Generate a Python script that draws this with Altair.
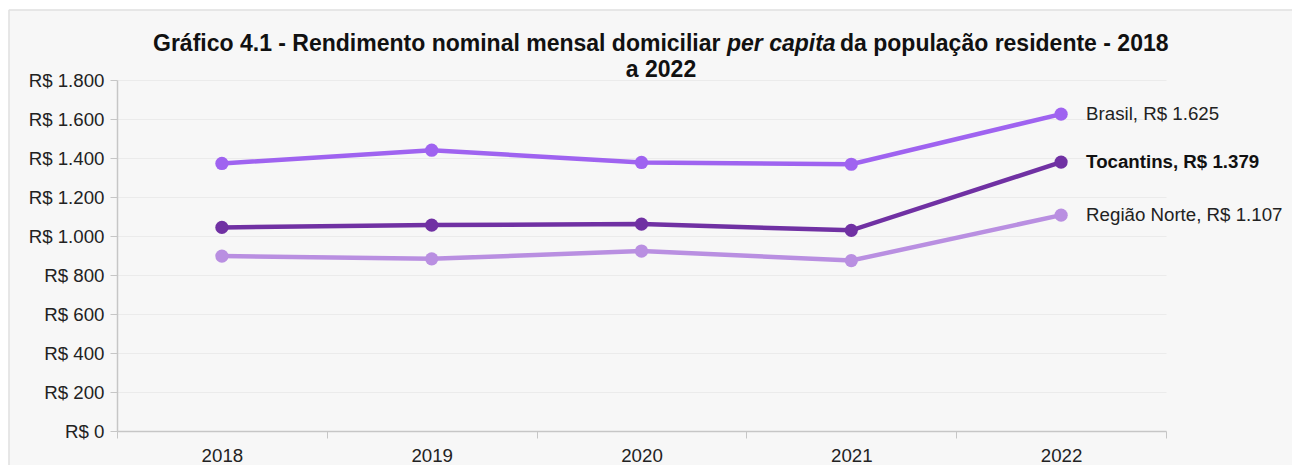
import altair as alt
import pandas as pd

years = ["2018", "2019", "2020", "2021", "2022"]
series = ["Brasil", "Tocantins", "Região Norte"]
brasil = [1372, 1440, 1377, 1368, 1625]
tocantins = [1044, 1056, 1061, 1029, 1379]
norte = [897, 883, 923, 874, 1107]
colors = ["#9F63F0", "#7031A3", "#B98FE1"]
y_ticks = [0, 200, 400, 600, 800, 1000, 1200, 1400, 1600, 1800]

title_a = "Gráfico 4.1 - Rendimento nominal mensal domiciliar"
title_b = "per capita"
title_c = "da população residente - 2018"
title_d = "a 2022"

rows = []
for name, vals in zip(series, [brasil, tocantins, norte]):
    for yr, v in zip(years, vals):
        rows.append({"ano": yr, "serie": name, "valor": v})
df = pd.DataFrame(rows)

last = df[df["ano"] == years[-1]].copy()
last["rotulo"] = [f"{s}, R$ {format(v, ',').replace(',', '.')}" for s, v in zip(last["serie"], last["valor"])]

FONT = "Liberation Sans"
color_scale = alt.Scale(domain=series, range=colors)

x_enc = alt.X(
    "ano:O",
    title=None,
    bandPosition=0.5,
    scale=alt.Scale(type="band", paddingInner=0, paddingOuter=0),
    axis=alt.Axis(
        tickBand="extent",
        labelAngle=0,
        grid=False,
        tickSize=7,
        labelPadding=8,
        labelFontSize=18.7,
        labelColor="#222222",
        labelFont=FONT,
        labelOverlap=False,
        domainColor="#c6c6c6",
        tickColor="#c6c6c6",
        domainWidth=1.5,
    ),
)
y_enc = alt.Y(
    "valor:Q",
    title=None,
    scale=alt.Scale(domain=[0, 1800], nice=False),
    axis=alt.Axis(
        values=y_ticks,
        tickCount=10,
        labelExpr="'R$ ' + replace(format(datum.value, ','), ',', '.')",
        grid=True,
        gridColor="#ebebeb",
        tickSize=7,
        labelPadding=6,
        labelFontSize=18.7,
        labelColor="#222222",
        labelFont=FONT,
        labelOverlap=False,
        labelFlush=False,
        domainColor="#c6c6c6",
        tickColor="#c6c6c6",
        domainWidth=1.5,
    ),
)

bdf = pd.DataFrame({"p": [0]})
border_top = alt.Chart(bdf).mark_rule(color="#e0e0e0", strokeWidth=1.5).encode(
    x=alt.value(-108), x2=alt.value(1180), y=alt.value(-70)
)
border_left = alt.Chart(bdf).mark_rule(color="#e0e0e0", strokeWidth=1.5).encode(
    x=alt.value(-108), y=alt.value(-70), y2=alt.value(420)
)
white_top = alt.Chart(bdf).mark_rect(color="#ffffff").encode(
    x=alt.value(-109), x2=alt.value(1185), y=alt.value(-72), y2=alt.value(-70.75)
)
white_left = alt.Chart(bdf).mark_rect(color="#ffffff").encode(
    x=alt.value(-109), x2=alt.value(-108.75), y=alt.value(-72), y2=alt.value(420)
)

base = alt.Chart(df)
lines = base.mark_line(strokeWidth=4.5).encode(
    x=x_enc, y=y_enc,
    color=alt.Color("serie:N", scale=color_scale, legend=None),
    detail="serie:N",
)
pts = base.mark_circle(size=175, opacity=1).encode(
    x=x_enc, y=y_enc,
    color=alt.Color("serie:N", scale=color_scale, legend=None),
)

lab_norm = alt.Chart(last[last["serie"] != "Tocantins"]).mark_text(
    align="left", baseline="middle", dx=25, fontSize=18.7, font=FONT, color="#222222"
).encode(x=x_enc, y=y_enc, text="rotulo:N")
lab_bold = alt.Chart(last[last["serie"] == "Tocantins"]).mark_text(
    align="left", baseline="middle", dx=25, fontSize=18.7, font=FONT, fontWeight="bold", color="#111111"
).encode(x=x_enc, y=y_enc, text="rotulo:N")

tdf = pd.DataFrame({"t": [0]})
def ttext(txt, x, y, align, italic=False):
    kw = dict(align=align, baseline="alphabetic", fontSize=23, font=FONT, fontWeight="bold", color="#111111", text=txt)
    if italic:
        kw["fontStyle"] = "italic"
    return alt.Chart(tdf).mark_text(**kw).encode(x=alt.value(x), y=alt.value(y))

t1 = ttext(title_a, 603.5, -29.5, "right")
t2 = ttext(title_b, 610, -29.5, "left", italic=True)
t3 = ttext(title_c, 723, -29.5, "left")
t4 = ttext(title_d, 544, -3.5, "center")

chart = alt.layer(lines, pts, lab_norm, lab_bold, t1, t2, t3, t4,
                  white_top, white_left, border_top, border_left).properties(
    width=1049, height=351,
    autosize=alt.AutoSizeParams(type="none"),
    padding={"left": 109, "top": 72, "right": 126, "bottom": 34},
    background="#f7f7f7",
).configure_view(stroke=None)

chart.save("out.html", embed_options={"renderer": "svg", "actions": False})
